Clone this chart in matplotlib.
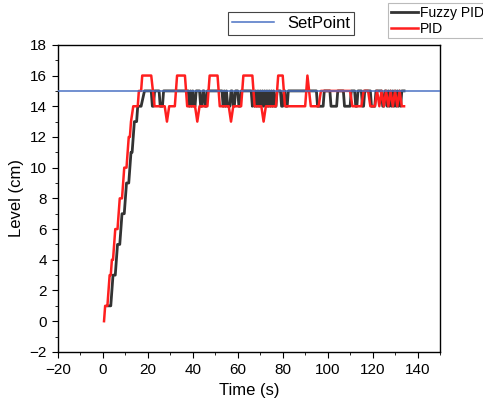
import numpy as np
import matplotlib.pyplot as plt
from matplotlib.ticker import MultipleLocator

plt.rcParams['font.family'] = ['Liberation Sans', 'DejaVu Sans']

setpoint = 15

# Fuzzy PID response (time, level) vertices
fuzzy_t = [2.0, 3.5, 4.0, 4.5, 5.5, 6.0, 6.5, 7.5, 8.0, 8.5, 9.5, 10.0, 10.5, 11.5, 12.0,
           12.5, 13.0, 13.5, 14.0, 15.0, 15.5, 17.0, 18.5,
           21.5, 22.0, 22.5, 23.0, 25.0, 25.5, 26.5, 27.0,
           38.0, 38.5, 39.0, 39.5, 40.0, 40.5, 41.0, 41.5, 43.0, 43.5, 44.0, 44.5,
           45.0, 45.5, 46.0, 46.5, 53.0, 53.5, 54.0, 54.5, 55.0, 55.5, 56.5, 57.0,
           57.5, 58.0, 58.5, 59.0, 60.0, 60.5, 61.0, 61.5, 66.0, 66.5, 67.0, 67.5,
           68.0, 68.5, 69.0, 69.5, 70.0, 70.5, 71.0, 71.5, 72.0, 72.5, 73.0, 73.5,
           74.0, 74.5, 75.0, 75.5, 76.0, 76.5, 77.0, 77.5, 79.0, 79.5, 80.0, 80.5,
           81.0, 81.5, 82.0, 82.5, 95.0, 95.5, 98.0, 98.5, 101.0, 101.5, 104.0, 104.5,
           107.0, 107.5, 110.0, 110.5, 112.0, 112.5, 113.0, 113.5, 115.0, 115.5,
           116.0, 116.5, 119.0, 119.5, 121.0, 121.5, 124.0, 124.5, 125.0, 125.5,
           126.0, 126.5, 127.0, 127.5, 128.0, 128.5, 129.0, 129.5, 130.0, 130.5,
           131.0, 131.5, 132.0, 132.5, 133.0, 133.5, 134.0]
fuzzy_v = [1, 1, 2, 3, 3, 4, 5, 5, 6, 7, 7, 8, 9, 9, 10,
           11, 11, 12, 13, 13, 14, 14, 15,
           15, 14, 14, 15, 15, 14, 14, 15,
           15, 14, 15, 14, 15, 14, 14, 15, 15, 14, 14, 15,
           15, 14, 14, 15, 15, 14, 15, 14, 15, 14, 14, 15,
           15, 14, 14, 15, 15, 14, 14, 15, 15, 14, 15, 14,
           15, 14, 15, 14, 15, 14, 15, 14, 15, 14, 15, 14,
           15, 14, 15, 14, 15, 14, 14, 15, 15, 14, 14, 15,
           15, 14, 14, 15, 15, 14, 14, 15, 15, 14, 14, 15,
           15, 14, 14, 15, 15, 14, 14, 15, 15, 14,
           14, 15, 15, 14, 14, 15, 15, 14, 14, 15,
           15, 14, 15, 14, 15, 14, 15, 14, 15, 14,
           15, 14, 15, 14, 15, 15, 15]

# PID response (time, level) vertices
pid_t = [0.5, 1.0, 2.0, 2.5, 3.0, 3.5, 4.0, 4.5, 5.0, 5.5, 6.5, 7.0, 7.5, 8.5, 9.0,
         9.5, 10.5, 11.0, 11.5, 12.0, 12.5, 13.5, 15.5, 16.0, 17.0, 17.5,
         21.5, 23.0, 27.5, 28.5, 29.5, 32.0, 33.0, 36.5, 37.5, 41.0,
         42.0, 43.0, 46.5, 47.5, 51.0, 52.0, 56.0, 57.0, 58.0, 61.5, 62.5, 66.5,
         67.5, 70.5, 71.5, 72.5, 77.0, 78.0, 80.0, 81.0, 90.0, 91.0, 92.5, 96.0,
         97.0, 110.0, 111.0, 115.0, 116.0, 118.0, 119.0, 121.0, 122.0, 123.0,
         124.0, 125.0, 126.0, 127.0, 128.0, 129.0, 130.0, 131.0, 132.0, 133.0, 134.0]
pid_v = [0, 1, 1, 2, 3, 3, 4, 4, 5, 6, 6, 7, 8, 8, 9,
         10, 10, 11, 12, 12, 13, 14, 14, 15, 15, 16,
         16, 14, 14, 13, 14, 14, 16, 16, 14, 14,
         13, 14, 14, 16, 16, 14, 14, 13, 14, 14, 16, 16,
         14, 14, 13, 14, 14, 16, 16, 14, 14, 16, 14, 14,
         15, 15, 14, 14, 15, 15, 14, 14, 15, 14,
         15, 14, 15, 14, 15, 14, 15, 14, 15, 14, 14]

fig = plt.figure(figsize=(4.83, 4.04), dpi=100)
ax = fig.add_axes([0.12, 0.129, 0.791, 0.76])

l_fuzzy, = ax.plot(fuzzy_t, fuzzy_v, color='#333333', lw=2.0, label='Fuzzy PID', zorder=2)
l_pid, = ax.plot(pid_t, pid_v, color='#ff1f1f', lw=1.8, label='PID', zorder=3)
l_sp = ax.axhline(setpoint, color='#4a72c4', lw=1.1, label='SetPoint', zorder=4)

ax.set_xlim(-20, 150)
ax.set_ylim(-2, 18)
ax.xaxis.set_major_locator(MultipleLocator(20))
ax.xaxis.set_minor_locator(MultipleLocator(10))
ax.yaxis.set_major_locator(MultipleLocator(2))
ax.yaxis.set_minor_locator(MultipleLocator(1))
ax.tick_params(which='both', direction='out', labelsize=11)
ax.tick_params(which='major', length=4.5)
ax.tick_params(which='minor', length=2.5)
for s in ax.spines.values():
    s.set_linewidth(1.0)
ax.set_xlabel('Time (s)', fontsize=12)
ax.set_ylabel('Level (cm)', fontsize=12)

leg1 = fig.legend(handles=[l_sp], loc='upper left', bbox_to_anchor=(0.472, 0.970),
                  fontsize=12, fancybox=False, edgecolor='#444444', framealpha=1,
                  handlelength=2.5, handletextpad=0.8, borderpad=0.25, borderaxespad=0)
leg1.get_frame().set_linewidth(0.8)
leg2 = fig.legend(handles=[l_fuzzy, l_pid], loc='upper left', bbox_to_anchor=(0.803, 0.993),
                  fontsize=10, fancybox=False, edgecolor='#bbbbbb', framealpha=1,
                  handlelength=2.0, handletextpad=0.1, borderpad=0.2, labelspacing=0.15,
                  borderaxespad=0)
leg2.get_frame().set_linewidth(0.8)

fig.savefig('out.png', dpi=100)
